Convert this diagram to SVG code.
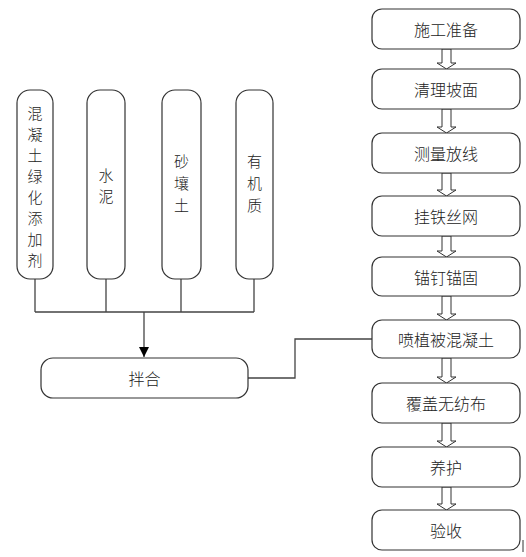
<svg xmlns="http://www.w3.org/2000/svg" width="526" height="557" viewBox="0 0 526 557">
<style>
.box{fill:#fff;stroke:#333;stroke-width:1.2}
.t{font-family:"Noto Sans CJK SC","Noto Sans CJK JP",sans-serif;font-size:16px;font-weight:300;fill:#222;text-anchor:middle;dominant-baseline:central}
.v{font-size:15px}
.ln{fill:none;stroke:#444;stroke-width:1.3}
.ba{fill:#fff;stroke:#333;stroke-width:1}
</style>
<defs>
<marker id="ah" viewBox="0 0 10 10" refX="10" refY="5" markerWidth="10" markerHeight="17" markerUnits="userSpaceOnUse" orient="auto">
<path d="M0,0 L10,5 L0,10 Z" fill="#000"/>
</marker>
</defs>
<rect width="526" height="557" fill="#fff"/>
<g id="connectors">
<path class="ln" d="M35,279 V312 M106,279 V312 M181,279 V312 M254,279 V312 M35,312 H254"/>
<path class="ln" d="M144,312 V357" marker-end="url(#ah)"/>
<path class="ln" d="M248,378 H295 V339 H372"/>
<polygon class="ba" points="442,49 451,49 451,63 456,63 446.5,69 437,63 442,63"/>
<polygon class="ba" points="442,109 451,109 451,127 456,127 446.5,133 437,127 442,127"/>
<polygon class="ba" points="442,173 451,173 451,190 456,190 446.5,196 437,190 442,190"/>
<polygon class="ba" points="442,236 451,236 451,251 456,251 446.5,257 437,251 442,251"/>
<polygon class="ba" points="442,296 451,296 451,314 456,314 446.5,320 437,314 442,314"/>
<polygon class="ba" points="442,358 451,358 451,377 456,377 446.5,383 437,377 442,377"/>
<polygon class="ba" points="442,423 451,423 451,441 456,441 446.5,447 437,441 442,441"/>
<polygon class="ba" points="442,487 451,487 451,504 456,504 446.5,510 437,504 442,504"/>
</g>
<g id="n1"><rect class="box" x="372" y="9" width="148" height="40" rx="10"/><text class="t" x="446" y="29">施工准备</text></g>
<g id="n2"><rect class="box" x="372" y="69" width="148" height="40" rx="10"/><text class="t" x="446" y="89">清理坡面</text></g>
<g id="n3"><rect class="box" x="372" y="133" width="148" height="40" rx="10"/><text class="t" x="446" y="153">测量放线</text></g>
<g id="n4"><rect class="box" x="372" y="196" width="148" height="40" rx="10"/><text class="t" x="446" y="216">挂铁丝网</text></g>
<g id="n5"><rect class="box" x="372" y="257" width="148" height="39" rx="10"/><text class="t" x="446" y="276.5">锚钉锚固</text></g>
<g id="n6"><rect class="box" x="372" y="320" width="148" height="38" rx="10"/><text class="t" x="446" y="339">喷植被混凝土</text></g>
<g id="n7"><rect class="box" x="372" y="383" width="148" height="40" rx="10"/><text class="t" x="446" y="403">覆盖无纺布</text></g>
<g id="n8"><rect class="box" x="372" y="447" width="148" height="40" rx="10"/><text class="t" x="446" y="467">养护</text></g>
<g id="n9"><rect class="box" x="372" y="510" width="148" height="40" rx="10"/><text class="t" x="446" y="530">验收</text></g>
<g id="m1"><rect class="box" x="17" y="90" width="36" height="189" rx="13"/>
<text class="t v"><tspan x="35" y="112">混</tspan><tspan x="35" y="133">凝</tspan><tspan x="35" y="154">土</tspan><tspan x="35" y="175">绿</tspan><tspan x="35" y="196">化</tspan><tspan x="35" y="217">添</tspan><tspan x="35" y="238">加</tspan><tspan x="35" y="259">剂</tspan></text></g>
<g id="m2"><rect class="box" x="87" y="90" width="38" height="189" rx="13"/>
<text class="t v"><tspan x="106" y="174">水</tspan><tspan x="106" y="195">泥</tspan></text></g>
<g id="m3"><rect class="box" x="162" y="90" width="39" height="189" rx="13"/>
<text class="t v"><tspan x="181.5" y="160">砂</tspan><tspan x="181.5" y="182">壤</tspan><tspan x="181.5" y="204">土</tspan></text></g>
<g id="m4"><rect class="box" x="236" y="90" width="37" height="189" rx="13"/>
<text class="t v"><tspan x="254.5" y="160">有</tspan><tspan x="254.5" y="182">机</tspan><tspan x="254.5" y="204">质</tspan></text></g>
<g id="mix"><rect class="box" x="41" y="358" width="207" height="40" rx="12"/><text class="t" x="144.5" y="378">拌合</text></g>
<path d="M523,540 V552" stroke="#333" stroke-width="1"/>
</svg>
